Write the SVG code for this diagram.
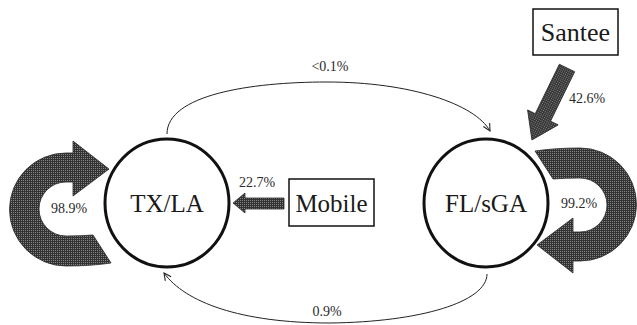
<svg xmlns="http://www.w3.org/2000/svg" width="637" height="325" viewBox="0 0 637 325">
  <style>
    .node-circle { fill: #ffffff; stroke: #111; stroke-width: 3; }
    .box { fill: #ffffff; stroke: #111; stroke-width: 1.5; }
    text { font-family: 'Liberation Serif', 'DejaVu Serif', serif; }
    .node-label { font-size: 25px; fill: #1a1a1a; text-anchor: middle; }
    .pct { font-size: 14px; fill: #2a2a2a; text-anchor: middle; }
    .curve { fill: none; stroke: #222; stroke-width: 1; }
    .block { fill: url(#stipple); stroke: #2a2a2a; stroke-width: 0.8; }
  </style>
  <defs>
    <pattern id="stipple" width="2" height="2" patternUnits="userSpaceOnUse">
      <rect width="2" height="2" fill="#333333"/>
      <rect width="1" height="1" fill="#858585"/>
    </pattern>
    <marker id="openArrow" viewBox="0 0 10 10" refX="9" refY="5" markerWidth="9" markerHeight="9" markerUnits="userSpaceOnUse" orient="auto">
      <path d="M1,1 L9,5 L1,9" fill="none" stroke="#222" stroke-width="1.2"/>
    </marker>
    <path id="loop" d="M -45,-54 Q -25,-57 0,-57 A 56 56 0 0 1 0,56 L -7,56 L -7,68 L -43,40 L -7,13 L -7,27 L 0,27 A 27 27 0 0 0 0,-27 Q -15,-27 -27,-26 Z"/>
  </defs>
  <rect width="637" height="325" fill="#ffffff"/>

  <g id="connectors">
    <path class="curve" d="M 167,134 C 167,95 250,82 327,82 C 410,82 475,104 490,131" marker-end="url(#openArrow)"/>
    <path class="curve" d="M 487,274 C 487,302 420,322 330,323 C 240,323 185,302 164,273" marker-end="url(#openArrow)"/>
    <use href="#loop" class="block" transform="translate(66,209) rotate(180)"/>
    <use href="#loop" class="block" transform="translate(580,205)"/>
    <polygon class="block" points="284,198 245,198 245,193 233,203 245,213 245,209 284,209"/>
    <polygon class="block" points="0,-8.5 55,-8.5 55,-17 80,0 55,17 55,8.5 0,8.5" transform="translate(567,68) rotate(116)"/>
    <text class="pct" x="330" y="71">&lt;0.1%</text>
    <text class="pct" x="327" y="316">0.9%</text>
    <text class="pct" x="257" y="187">22.7%</text>
    <text class="pct" x="587" y="103">42.6%</text>
    <text class="pct" x="69" y="213">98.9%</text>
    <text class="pct" x="579" y="208">99.2%</text>
  </g>

  <g id="node-txla">
    <ellipse class="node-circle" cx="167" cy="203" rx="62" ry="64"/>
    <text class="node-label" x="167" y="212">TX/LA</text>
  </g>

  <g id="node-flsga">
    <ellipse class="node-circle" cx="486" cy="203" rx="62" ry="64"/>
    <text class="node-label" x="486" y="212">FL/sGA</text>
  </g>

  <g id="node-mobile">
    <rect class="box" x="289" y="179" width="85" height="47"/>
    <text class="node-label" x="331.5" y="212">Mobile</text>
  </g>

  <g id="node-santee">
    <rect class="box" x="533" y="9" width="85" height="46"/>
    <text class="node-label" x="575.5" y="41" style="font-size:26px">Santee</text>
  </g>
</svg>
